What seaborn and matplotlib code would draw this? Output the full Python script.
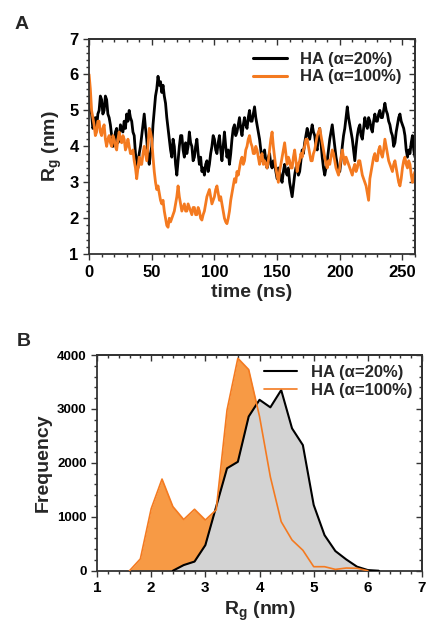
import numpy as np
import seaborn as sns
import matplotlib.pyplot as plt
from matplotlib.ticker import MultipleLocator

# Rg trajectories, one value per ns (0..260 ns)
rg_20 = [
    5.4, 5.0, 4.9, 4.5, 4.6, 4.8, 4.5, 4.9, 5.0, 5.4,
    5.3, 4.9, 5.0, 5.4, 5.3, 4.9, 4.8, 4.6, 4.3, 4.0,
    4.1, 4.4, 4.5, 4.1, 4.2, 4.6, 4.5, 4.4, 4.7, 4.5,
    4.9, 4.7, 5.0, 4.8, 4.7, 4.4, 4.3, 3.8, 3.6, 3.4,
    3.8, 4.0, 4.3, 4.6, 4.9, 4.5, 4.2, 3.7, 3.5, 3.8,
    4.0, 4.6, 5.0, 5.4, 5.6, 5.95, 5.7, 5.8, 5.5, 5.7,
    5.4, 5.2, 4.8, 4.5, 4.2, 3.9, 3.7, 4.2, 4.0, 3.5,
    3.2, 3.6, 4.0, 4.3, 4.3, 3.9, 3.7, 4.1, 3.8, 4.0,
    4.4, 4.1, 4.0, 3.6, 3.7, 4.0, 4.2, 3.8, 3.5, 3.7,
    3.3, 3.4, 3.2, 3.5, 3.6, 3.3, 3.5, 3.8, 4.0, 4.3,
    4.2, 3.9, 3.8, 4.1, 4.3, 3.9, 3.6, 4.0, 4.4, 4.0,
    3.7, 3.9, 3.5, 3.8, 4.2, 4.5, 4.6, 4.3, 4.4, 4.6,
    4.8, 4.5, 4.3, 4.6, 4.8, 4.6, 4.5, 4.8, 5.0, 4.7,
    4.7, 4.9, 5.1, 4.8, 4.6, 4.4, 4.2, 3.9, 3.6, 3.8,
    3.9, 3.6, 3.4, 3.7, 3.8, 3.5, 3.4, 3.6, 3.5, 3.3,
    3.1, 3.4, 3.3, 3.1, 3.0, 3.3, 3.5, 3.3, 3.2, 3.4,
    3.0, 2.8, 2.6, 2.9, 3.2, 3.4, 3.5, 3.2, 3.3, 3.6,
    3.9, 3.8, 4.1, 4.3, 4.5, 4.3, 4.2, 4.4, 4.6, 4.4,
    4.3, 4.0, 3.9, 4.3, 4.5, 4.1, 3.7, 3.4, 3.2, 3.4,
    3.6, 3.9, 4.2, 4.4, 4.6, 4.3, 4.0, 3.7, 3.5, 3.3,
    3.3, 3.6, 4.0, 4.3, 4.5, 4.8, 5.1, 4.8, 4.6, 4.4,
    4.2, 3.9, 3.6, 4.0, 4.3, 4.5, 4.6, 4.3, 4.2, 4.5,
    4.8, 4.6, 4.5, 4.8, 4.7, 4.5, 4.4, 4.7, 4.9, 4.7,
    4.7, 4.9, 5.0, 4.8, 4.8, 5.0, 5.2, 5.0, 4.9, 4.7,
    4.6, 4.4, 4.3, 4.0, 4.1, 4.4, 4.6, 4.8, 4.9, 4.7,
    4.6, 4.5, 4.3, 3.9, 3.7, 3.9, 3.8, 4.1, 4.3, 3.9,
    3.7,
]
rg_100 = [
    6.0, 5.6, 5.0, 4.8, 4.6, 4.3, 4.4, 4.7, 4.7, 4.4,
    4.3, 4.5, 4.6, 4.2, 4.0, 4.2, 4.3, 4.1, 4.0, 4.3,
    4.2, 4.0, 3.9, 4.2, 4.4, 4.2, 4.1, 4.3, 4.2, 3.9,
    4.0, 4.2, 4.0, 3.8, 3.8, 3.9, 3.6, 3.4, 3.1, 3.4,
    3.7, 3.5, 3.5, 3.8, 4.0, 3.8, 3.6, 4.0, 4.5, 4.4,
    4.2, 3.7, 3.3, 3.0, 2.8, 2.9, 2.7, 2.5, 2.4, 2.5,
    2.2, 2.0, 1.8, 1.75, 2.0, 1.9, 2.0, 2.1, 2.2, 2.4,
    2.6, 2.9, 2.6, 2.4, 2.2, 2.3, 2.4, 2.2, 2.2, 2.4,
    2.3, 2.2, 2.1, 2.3, 2.3, 2.1, 2.1, 2.3, 2.2, 2.0,
    1.95, 2.1, 2.2, 2.4, 2.6, 2.7, 2.8, 2.6, 2.4, 2.5,
    2.6, 2.8, 2.9, 2.7, 2.5, 2.6, 2.4, 2.2, 2.0, 1.9,
    1.85, 2.0, 2.2, 2.5, 2.7, 2.9, 3.1, 3.0, 3.3, 3.2,
    3.4, 3.6, 3.7, 3.5, 3.6, 3.9, 4.0, 4.2, 4.3, 4.1,
    4.0, 3.8, 3.8, 4.0, 3.9, 3.7, 3.5, 3.7, 3.8, 3.5,
    3.6, 3.5, 3.4, 3.6, 3.9, 4.2, 4.4, 4.0, 3.7, 3.4,
    3.2, 3.0, 3.3, 3.5, 3.7, 3.9, 4.1, 3.8, 3.5, 3.7,
    3.6, 3.4, 3.4, 3.7, 3.9, 3.6, 3.3, 3.5, 3.6, 3.8,
    3.7, 3.9, 4.0, 4.2, 4.2, 4.0, 3.8, 3.6, 3.6, 3.8,
    3.9, 4.1, 4.3, 4.4, 4.5, 4.3, 4.1, 3.9, 3.7, 3.5,
    3.4, 3.6, 3.5, 3.7, 3.9, 3.8, 3.6, 3.4, 3.3, 3.2,
    3.4, 3.7, 3.9, 3.7, 3.5, 3.7, 3.6, 3.5, 3.4, 3.3,
    3.2, 3.4, 3.5, 3.3, 3.4, 3.6, 3.6, 3.4, 3.2, 3.1,
    3.0, 2.9, 2.7, 2.5, 3.1, 3.3, 3.5, 3.7, 3.8, 3.6,
    3.6, 3.9, 4.0, 3.8, 3.7, 3.9, 4.2, 4.0, 3.8, 3.6,
    3.5, 3.4, 3.3, 3.5, 3.6, 3.4, 3.2, 3.0, 2.9, 3.1,
    3.4, 3.6, 3.7, 3.5, 3.4, 3.6, 3.5, 3.2, 3.0, 3.2,
    3.3,
]

# Rg histograms (bin centres in nm, counts)
bins_20 = [2.4, 2.6, 2.8, 3.0, 3.2, 3.4, 3.6, 3.8, 4.0, 4.2, 4.4, 4.6,
           4.8, 5.0, 5.2, 5.4, 5.6, 5.8, 6.0, 6.2]
freq_20 = [0, 105, 170, 475, 1190, 1900, 2020, 2860, 3170, 3030, 3350, 2640,
           2330, 1220, 660, 365, 210, 75, 12, 0]
bins_100 = [1.6, 1.8, 2.0, 2.2, 2.4, 2.6, 2.8, 3.0, 3.2, 3.4, 3.6, 3.8,
            4.0, 4.2, 4.4, 4.6, 4.8, 5.0, 5.2, 5.4, 5.6, 5.8, 6.0]
freq_100 = [0, 220, 1150, 1700, 1190, 950, 1140, 940, 1130, 2980, 3940, 3730,
            2860, 1740, 910, 570, 380, 75, 75, 25, 50, 45, 0]

labels = ["HA (\u03b1=20%)", "HA (\u03b1=100%)"]
black = "#000000"
orange = "#F47A20"
orange_fill = "#F79A45"
gray_fill = "#D3D3D3"

sns.set_theme(style="ticks")
plt.rcParams["font.family"] = ["Liberation Sans", "DejaVu Sans"]
plt.rcParams["font.weight"] = "bold"
plt.rcParams["axes.labelweight"] = "bold"
plt.rcParams["mathtext.fontset"] = "custom"
plt.rcParams["mathtext.rm"] = "Liberation Sans:bold"
plt.rcParams["mathtext.it"] = "Liberation Sans:bold"
plt.rcParams["mathtext.bf"] = "Liberation Sans:bold"

fig = plt.figure(figsize=(4.41, 6.42), dpi=100)
ax1 = fig.add_axes([0.202, 0.604, 0.739, 0.336])
ax2 = fig.add_axes([0.220, 0.111, 0.737, 0.336])


def style_axis(ax, xmaj, xmin, ymaj, ymin, labelsize):
    ax.xaxis.set_major_locator(MultipleLocator(xmaj))
    ax.xaxis.set_minor_locator(MultipleLocator(xmin))
    ax.yaxis.set_major_locator(MultipleLocator(ymaj))
    ax.yaxis.set_minor_locator(MultipleLocator(ymin))
    for s in ax.spines.values():
        s.set_linewidth(1.3)
        s.set_color("#333333")
    ax.tick_params(which="both", direction="out", width=1.0, colors="#333333",
                   labelcolor="black", labelsize=labelsize)
    ax.tick_params(which="major", length=4)
    ax.tick_params(which="minor", length=2.5)
    for lab in ax.get_xticklabels() + ax.get_yticklabels():
        lab.set_fontweight("bold")
    # inward ticks on the top and right spines
    top = ax.secondary_xaxis("top")
    right = ax.secondary_yaxis("right")
    top.xaxis.set_major_locator(MultipleLocator(xmaj))
    top.xaxis.set_minor_locator(MultipleLocator(xmin))
    right.yaxis.set_major_locator(MultipleLocator(ymaj))
    right.yaxis.set_minor_locator(MultipleLocator(ymin))
    for sec in (top, right):
        for s in sec.spines.values():
            s.set_linewidth(1.3)
            s.set_color("#333333")
        sec.tick_params(which="both", direction="in", width=1.0, colors="#333333",
                        labelleft=False, labelright=False, labeltop=False,
                        labelbottom=False)
        sec.tick_params(which="major", length=4)
        sec.tick_params(which="minor", length=2.5)


# Panel A: time series
t20 = np.arange(len(rg_20))
t100 = np.arange(len(rg_100))
sns.lineplot(x=t20, y=rg_20, color=black, lw=2.0, ax=ax1, label=labels[0])
sns.lineplot(x=t100, y=rg_100, color=orange, lw=2.0, ax=ax1, label=labels[1])
ax1.set_xlim(0, 260)
ax1.set_ylim(1, 7)
ax1.set_xlabel("time (ns)", fontsize=14, fontweight="bold", labelpad=3)
ax1.set_ylabel(r"R$_{g}$ (nm)", fontsize=14, fontweight="bold", labelpad=4)
style_axis(ax1, 50, 10, 1, 0.2, 12)
leg1 = ax1.legend(loc="upper right", frameon=False, handlelength=2.0,
                  handletextpad=0.8, borderaxespad=0.4, labelspacing=0.15,
                  prop={"weight": "bold", "size": 12})
for h in leg1.get_lines():
    h.set_linewidth(2.2)

# Panel B: histograms
ax2.fill_between(bins_100, freq_100, color=orange_fill, lw=0, zorder=1)
ax2.fill_between(bins_20, freq_20, color=gray_fill, lw=0, zorder=2)
sns.lineplot(x=bins_20, y=freq_20, color=black, lw=1.5, ax=ax2, label=labels[0], zorder=3)
sns.lineplot(x=bins_100, y=freq_100, color=orange, lw=1.2, ax=ax2, label=labels[1], zorder=4)
ax2.set_xlim(1, 7)
ax2.set_ylim(0, 4000)
ax2.set_xlabel(r"R$_{g}$ (nm)", fontsize=14, fontweight="bold", labelpad=3)
ax2.set_ylabel("Frequency", fontsize=14, fontweight="bold", labelpad=4)
style_axis(ax2, 1, 0.2, 1000, 200, 11)
ax2.tick_params(axis="y", labelsize=9.5)
leg2 = ax2.legend(loc="upper right", frameon=False, handlelength=2.0,
                  handletextpad=0.8, borderaxespad=0.2, labelspacing=0.15,
                  prop={"weight": "bold", "size": 12})

fig.text(0.034, 0.962, "A", fontsize=14, fontweight="bold", ha="left", va="center")
fig.text(0.038, 0.468, "B", fontsize=14, fontweight="bold", ha="left", va="center")

fig.savefig("out.png", dpi=100)
